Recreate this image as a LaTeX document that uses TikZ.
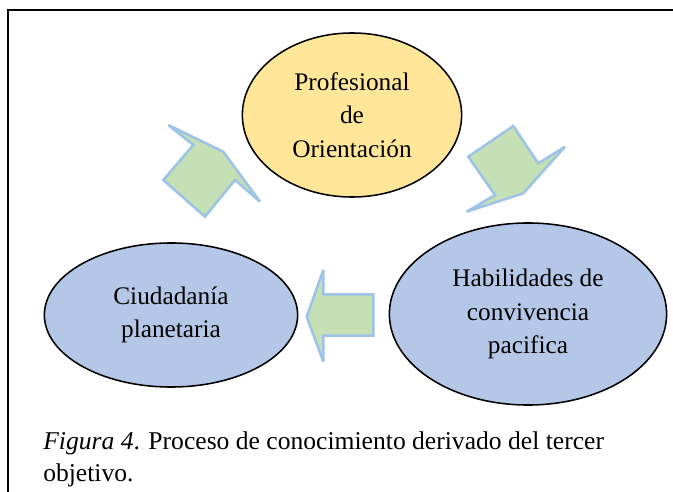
\documentclass[tikz,border=0pt]{standalone}
\usepackage{fontspec}
\setmainfont{Liberation Serif}
\usepackage{tikz}
\usetikzlibrary{shapes.geometric}

\definecolor{stageyellow}{HTML}{FFE699}
\definecolor{stageblue}{HTML}{B4C7E7}
\definecolor{arrowgreen}{HTML}{C5E0B4}
\definecolor{arrowline}{HTML}{9DC3E6}

\begin{document}
\begin{tikzpicture}[x=0.025cm, y=-0.025cm,
  stage/.style={ellipse, draw=black, line width=1.1pt, inner sep=0pt,
    align=center, font=\fontsize{18}{24}\selectfont},
  blockarrow/.style={draw=arrowline, fill=arrowgreen, line width=1.8pt,
    line join=miter, miter limit=2}]

\useasboundingbox (0,0) rectangle (673,492);
\clip (0,0) rectangle (673,492);

% frame of the figure (right and bottom edges are cut off)
\draw[black, line width=1.5pt] (8,10) rectangle (700,520);

% the three stages
\node[stage, fill=stageyellow, minimum width=5.48cm, minimum height=4.1cm]
  (orient) at (352,115) {Profesional\\de\\Orientación};
\node[stage, fill=stageblue, minimum width=6.33cm, minimum height=3.6cm]
  (ciudad) at (171,315) {Ciudadanía\\planetaria};
\node[stage, fill=stageblue, minimum width=6.93cm, minimum height=4.55cm]
  (habil) at (528,314) {Habilidades de\\convivencia\\pacifica};

% block arrows
\draw[blockarrow] (163.3,180) -- (193.3,145) -- (168.3,125) -- (223.3,151.7)
  -- (260,201.7) -- (235,180) -- (205,216.7) -- cycle;
\draw[blockarrow] (468.3,156.7) -- (513.3,126) -- (538.3,163.3) -- (565,146.7)
  -- (523.3,193.3) -- (466.7,211.7) -- (495,195) -- cycle;
\draw[blockarrow] (373.3,294.3) -- (323.3,294.3) -- (323.3,270) -- (306.7,316.7)
  -- (323.3,361.7) -- (323.3,335.7) -- (373.3,335.7) -- cycle;

% caption
\node[anchor=base west, align=left, inner sep=0pt,
  font=\fontsize{18.2}{22.5}\selectfont] (caption) at (43,481)
  {\textit{Figura 4}. Proceso de conocimiento derivado del tercer\\objetivo.};

\end{tikzpicture}
\end{document}
